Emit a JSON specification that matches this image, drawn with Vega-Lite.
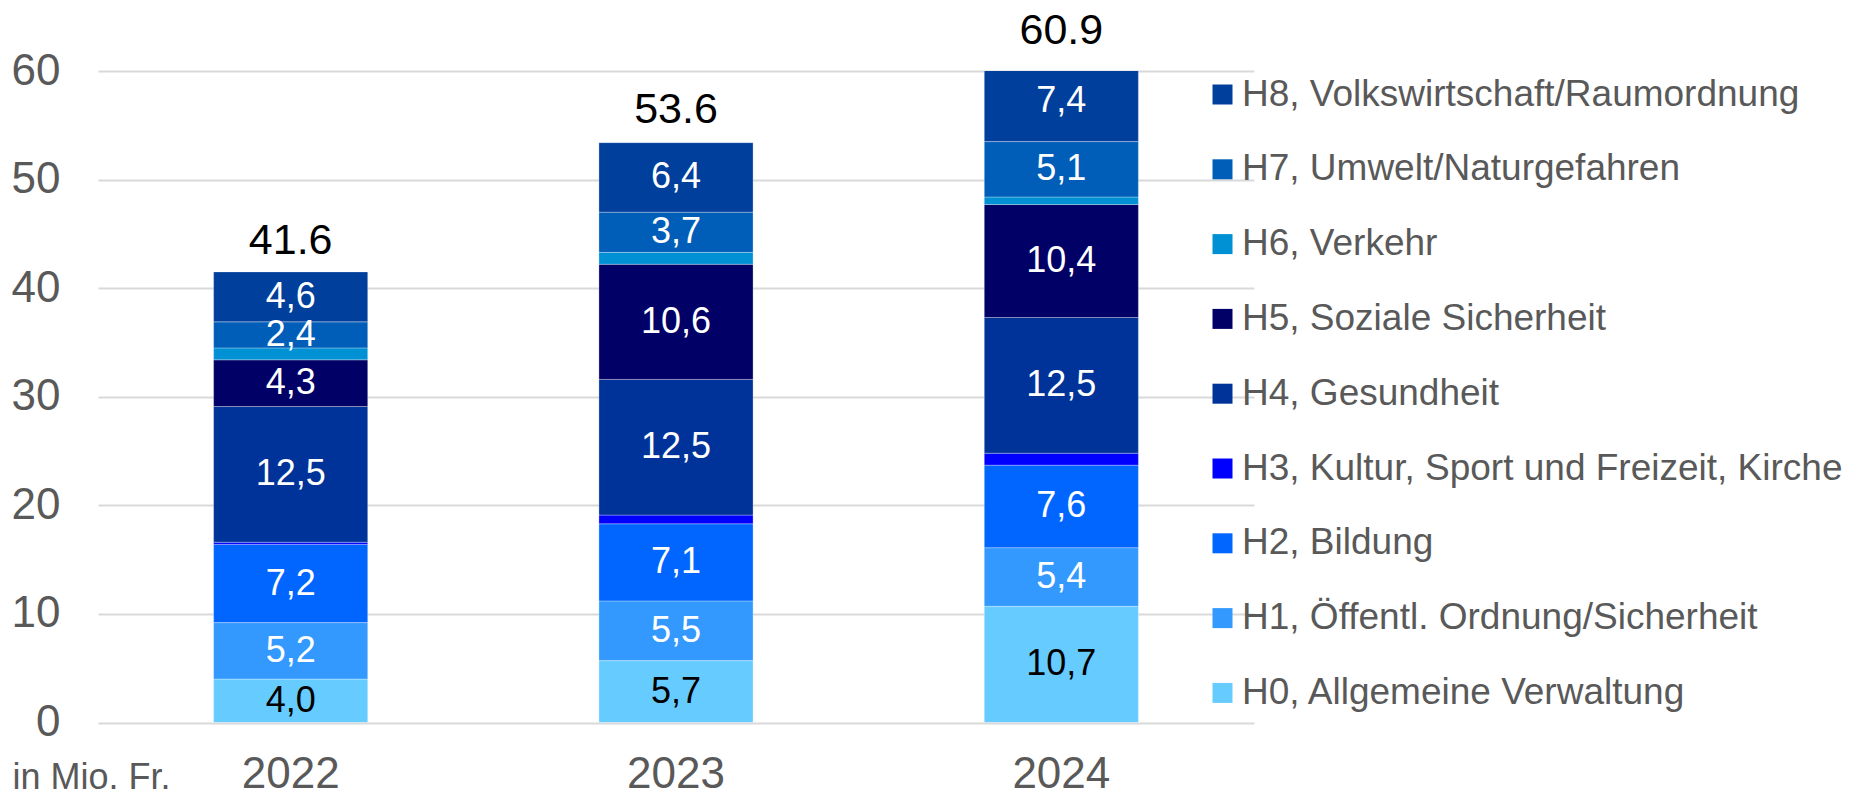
{
  "$schema": "https://vega.github.io/schema/vega-lite/v6.json",
  "autosize": {"type": "none"},
  "padding": {"left": 98, "top": 71, "right": 600, "bottom": 68},
  "width": 1156,
  "height": 651.5,
  "background": "white",
  "config": {"view": {"stroke": null}, "font": "Liberation Sans"},
  "datasets": {
    "seg": [
      {"year": "2022", "cat": "H0, Allgemeine Verwaltung", "value": 4.0},
      {"year": "2022", "cat": "H1, Öffentl. Ordnung/Sicherheit", "value": 5.2},
      {"year": "2022", "cat": "H2, Bildung", "value": 7.2},
      {"year": "2022", "cat": "H3, Kultur, Sport und Freizeit, Kirche", "value": 0.2},
      {"year": "2022", "cat": "H4, Gesundheit", "value": 12.5},
      {"year": "2022", "cat": "H5, Soziale Sicherheit", "value": 4.3},
      {"year": "2022", "cat": "H6, Verkehr", "value": 1.1},
      {"year": "2022", "cat": "H7, Umwelt/Naturgefahren", "value": 2.4},
      {"year": "2022", "cat": "H8, Volkswirtschaft/Raumordnung", "value": 4.6},
      {"year": "2023", "cat": "H0, Allgemeine Verwaltung", "value": 5.7},
      {"year": "2023", "cat": "H1, Öffentl. Ordnung/Sicherheit", "value": 5.5},
      {"year": "2023", "cat": "H2, Bildung", "value": 7.1},
      {"year": "2023", "cat": "H3, Kultur, Sport und Freizeit, Kirche", "value": 0.8},
      {"year": "2023", "cat": "H4, Gesundheit", "value": 12.5},
      {"year": "2023", "cat": "H5, Soziale Sicherheit", "value": 10.6},
      {"year": "2023", "cat": "H6, Verkehr", "value": 1.1},
      {"year": "2023", "cat": "H7, Umwelt/Naturgefahren", "value": 3.7},
      {"year": "2023", "cat": "H8, Volkswirtschaft/Raumordnung", "value": 6.4},
      {"year": "2024", "cat": "H0, Allgemeine Verwaltung", "value": 10.7},
      {"year": "2024", "cat": "H1, Öffentl. Ordnung/Sicherheit", "value": 5.4},
      {"year": "2024", "cat": "H2, Bildung", "value": 7.6},
      {"year": "2024", "cat": "H3, Kultur, Sport und Freizeit, Kirche", "value": 1.1},
      {"year": "2024", "cat": "H4, Gesundheit", "value": 12.5},
      {"year": "2024", "cat": "H5, Soziale Sicherheit", "value": 10.4},
      {"year": "2024", "cat": "H6, Verkehr", "value": 0.7},
      {"year": "2024", "cat": "H7, Umwelt/Naturgefahren", "value": 5.1},
      {"year": "2024", "cat": "H8, Volkswirtschaft/Raumordnung", "value": 7.4}
    ],
    "tot": [
      {"year": "2022", "total": 41.6},
      {"year": "2023", "total": 53.6},
      {"year": "2024", "total": 60.9}
    ]
  },
  "layer": [
    {
      "data": {"name": "seg"},
      "transform": [
        {"stack": "value", "groupby": ["year"], "sort": [{"field": "cat", "order": "ascending"}], "as": ["v0", "v1"]}
      ],
      "mark": {"type": "bar", "clip": true, "stroke": "#ffffff", "strokeOpacity": 0.3, "strokeWidth": 1},
      "encoding": {
        "x": {
          "field": "year", "type": "nominal",
          "scale": {"paddingInner": 0.6, "paddingOuter": 0.3},
          "axis": {
            "title": null, "labelAngle": 0, "domain": false, "ticks": false, "tickSize": 0,
            "labelFontSize": 44, "labelColor": "#595959", "labelBaseline": "alphabetic",
            "labelPadding": 65, "grid": false
          }
        },
        "y": {
          "field": "v1", "type": "quantitative",
          "scale": {"domain": [0, 60], "nice": false},
          "axis": {
            "values": [0, 10, 20, 30, 40, 50, 60],
            "grid": true, "gridColor": "#d9d9d9", "gridWidth": 2,
            "domain": false, "ticks": false, "tickSize": 0,
            "labelFontSize": 44, "labelColor": "#595959", "labelPadding": 38,
            "title": "in Mio. Fr.", "titleAngle": 0, "titleX": -86, "titleY": 717.5,
            "titleAlign": "left", "titleBaseline": "alphabetic", "titleFontSize": 36,
            "titleFontWeight": "normal", "titleColor": "#595959"
          }
        },
        "y2": {"field": "v0"},
        "color": {
          "field": "cat", "type": "nominal",
          "scale": {
            "domain": [
              "H8, Volkswirtschaft/Raumordnung",
              "H7, Umwelt/Naturgefahren",
              "H6, Verkehr",
              "H5, Soziale Sicherheit",
              "H4, Gesundheit",
              "H3, Kultur, Sport und Freizeit, Kirche",
              "H2, Bildung",
              "H1, Öffentl. Ordnung/Sicherheit",
              "H0, Allgemeine Verwaltung"
            ],
            "range": ["#003f9b", "#005eb8", "#0091d5", "#000066", "#003399", "#0000ff", "#0066ff", "#3399ff", "#66ccff"]
          },
          "legend": {
            "orient": "none", "legendX": 1106, "legendY": 5, "title": null,
            "symbolType": "square", "symbolSize": 400, "symbolStrokeWidth": 0,
            "labelFontSize": 37, "labelColor": "#595959", "labelOffset": 1,
            "rowPadding": 36.8, "labelLimit": 0, "padding": 0
          }
        }
      }
    },
    {
      "data": {"name": "seg"},
      "transform": [
        {"stack": "value", "groupby": ["year"], "sort": [{"field": "cat", "order": "ascending"}], "as": ["v0", "v1"]},
        {"filter": "datum.value >= 2"},
        {"calculate": "(datum.v0 + datum.v1) / 2", "as": "mid"},
        {"calculate": "replace(format(datum.value, '.1f'), '.', ',')", "as": "lbl"}
      ],
      "mark": {"type": "text", "fontSize": 36, "baseline": "middle", "align": "center"},
      "encoding": {
        "x": {"field": "year", "type": "nominal"},
        "y": {"field": "mid", "type": "quantitative"},
        "text": {"field": "lbl"},
        "color": {
          "condition": {"test": "datum.cat === 'H0, Allgemeine Verwaltung'", "value": "#000000"},
          "value": "#ffffff"
        }
      }
    },
    {
      "data": {"name": "tot"},
      "mark": {"type": "text", "fontSize": 43, "baseline": "middle", "align": "center", "dy": -30, "color": "#000000"},
      "encoding": {
        "x": {"field": "year", "type": "nominal"},
        "y": {"field": "total", "type": "quantitative"},
        "text": {"field": "total", "type": "quantitative", "format": ".1f"}
      }
    }
  ]
}
